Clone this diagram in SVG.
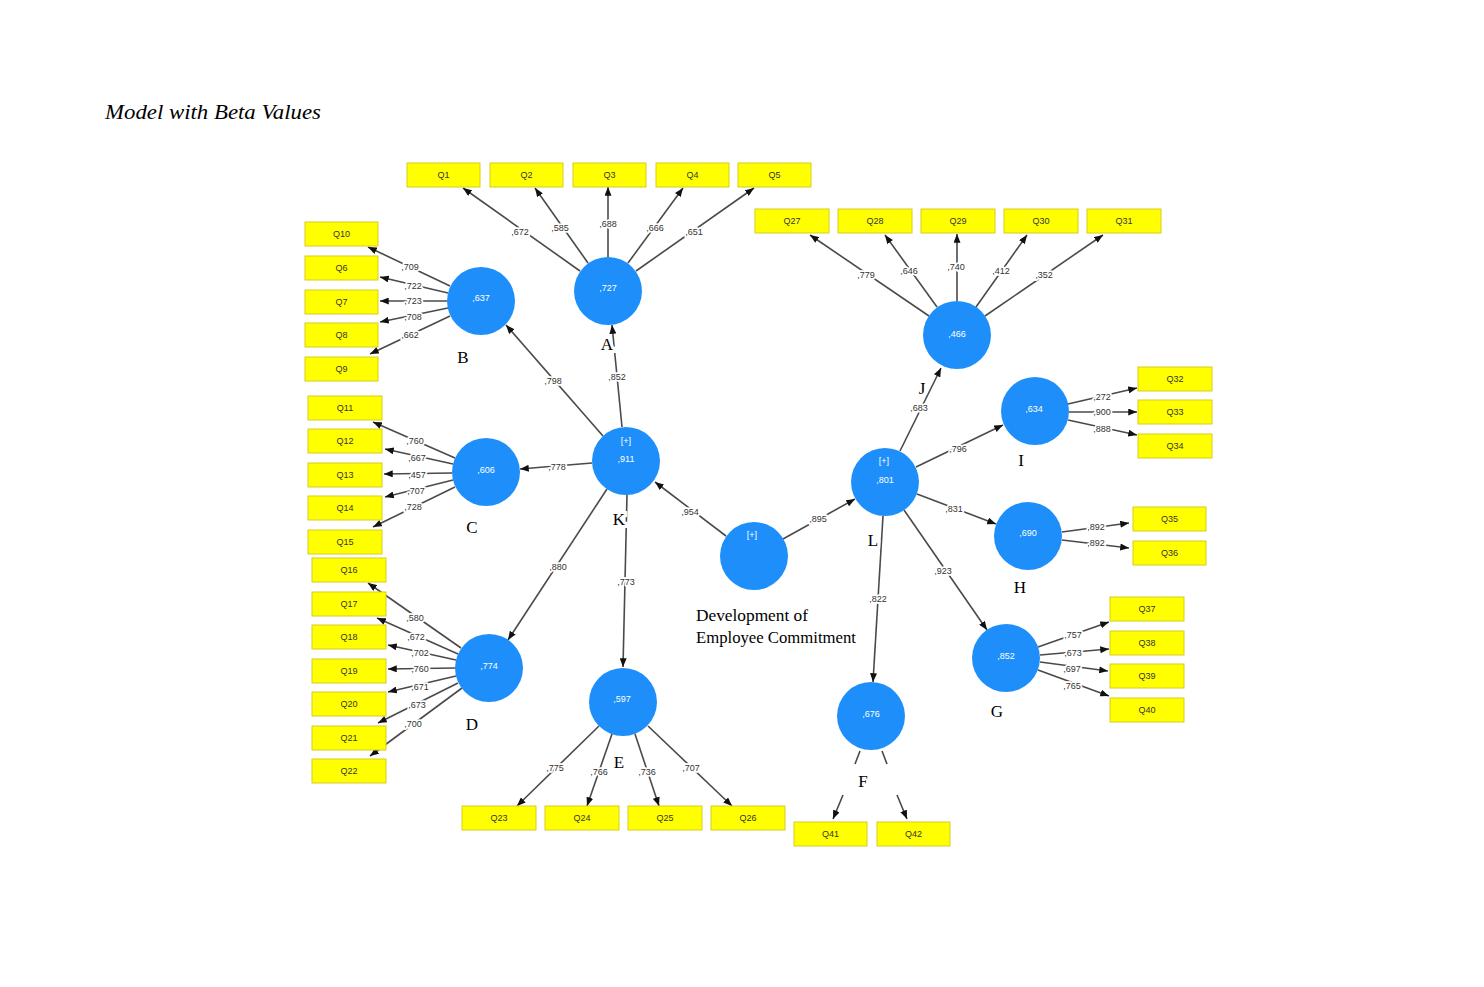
<svg xmlns="http://www.w3.org/2000/svg" width="1484" height="987" viewBox="0 0 1484 987">
<defs>
<marker id="ah" viewBox="0 0 10 8" refX="10" refY="4" markerWidth="9" markerHeight="7" markerUnits="userSpaceOnUse" orient="auto">
<path d="M0,0 L10,4 L0,8 z" fill="#111"/>
</marker>
</defs>
<style>
.bg{fill:#fff}
.c{stroke:#4a4a4a;stroke-width:1.6;fill:none;marker-end:url(#ah)}
.lb{font-family:"Liberation Sans",Arial,sans-serif;font-size:9px;fill:#333;text-anchor:middle;dominant-baseline:central;stroke:#fff;stroke-width:3.5px;paint-order:stroke;stroke-linejoin:round}
.box rect{fill:#ffff00;stroke:#d8cc20;stroke-width:1}
.box text{font-family:"Liberation Sans",Arial,sans-serif;font-size:9px;fill:#333;text-anchor:middle;dominant-baseline:central}
.lv circle{fill:#1e8ffa}
.lv text{font-family:"Liberation Sans",Arial,sans-serif;font-size:9px;fill:#fff;text-anchor:middle;dominant-baseline:central}
.let{font-family:"Liberation Serif","Times New Roman",serif;font-size:17px;fill:#000;text-anchor:middle;dominant-baseline:central;stroke:#fff;stroke-width:6px;paint-order:stroke}
.ttl{font-family:"Liberation Serif","Times New Roman",serif;font-style:italic;font-size:21px;fill:#000}
.dec{font-family:"Liberation Serif","Times New Roman",serif;font-size:17px;fill:#000}
</style>
<rect class="bg" x="0" y="0" width="1484" height="987"/>
<text class="ttl" x="105" y="119" textLength="216" lengthAdjust="spacingAndGlyphs">Model with Beta Values</text>

<g id="connectors">
<!-- A -->
<line class="c" x1="580" y1="271" x2="463" y2="188"/>
<line class="c" x1="588" y1="263" x2="535" y2="188"/>
<line class="c" x1="608" y1="257" x2="608" y2="187"/>
<line class="c" x1="628" y1="263" x2="683" y2="188"/>
<line class="c" x1="636" y1="271" x2="754" y2="188"/>
<!-- J -->
<line class="c" x1="929" y1="316" x2="810" y2="235"/>
<line class="c" x1="937" y1="307" x2="885" y2="235"/>
<line class="c" x1="957" y1="301" x2="957" y2="234"/>
<line class="c" x1="976" y1="307" x2="1027" y2="235"/>
<line class="c" x1="985" y1="316" x2="1103" y2="235"/>
<!-- B -->
<line class="c" x1="450" y1="286" x2="368" y2="247"/>
<line class="c" x1="448" y1="293" x2="380" y2="277"/>
<line class="c" x1="447" y1="301" x2="380" y2="301"/>
<line class="c" x1="448" y1="308" x2="380" y2="322"/>
<line class="c" x1="450" y1="316" x2="370" y2="354"/>
<!-- C -->
<line class="c" x1="455" y1="458" x2="373" y2="422"/>
<line class="c" x1="453" y1="464" x2="385" y2="449"/>
<line class="c" x1="452" y1="473" x2="384" y2="474"/>
<line class="c" x1="453" y1="480" x2="385" y2="497"/>
<line class="c" x1="455" y1="487" x2="373" y2="527"/>
<!-- D -->
<line class="c" x1="461" y1="648" x2="368" y2="583"/>
<line class="c" x1="458" y1="654" x2="377" y2="618"/>
<line class="c" x1="456" y1="660" x2="388" y2="645"/>
<line class="c" x1="455" y1="668" x2="388" y2="669"/>
<line class="c" x1="456" y1="676" x2="388" y2="692"/>
<line class="c" x1="458" y1="683" x2="378" y2="723"/>
<line class="c" x1="462" y1="688" x2="370" y2="756"/>
<!-- E -->
<line class="c" x1="599" y1="726" x2="517" y2="806"/>
<line class="c" x1="612" y1="734" x2="587" y2="806"/>
<line class="c" x1="635" y1="734" x2="659" y2="806"/>
<line class="c" x1="648" y1="726" x2="732" y2="806"/>
<!-- F -->
<path class="c" d="M860,751 L855,764 M843,795 L833,819"/>
<path class="c" d="M882,751 L887,764 M897,795 L907,819"/>
<!-- G -->
<line class="c" x1="1038" y1="647" x2="1109" y2="622"/>
<line class="c" x1="1040" y1="655" x2="1109" y2="649"/>
<line class="c" x1="1040" y1="662" x2="1108" y2="671"/>
<line class="c" x1="1038" y1="670" x2="1109" y2="696"/>
<!-- I -->
<line class="c" x1="1068" y1="404" x2="1137" y2="388"/>
<line class="c" x1="1069" y1="412" x2="1137" y2="412"/>
<line class="c" x1="1068" y1="420" x2="1137" y2="435"/>
<!-- H -->
<line class="c" x1="1062" y1="532" x2="1129" y2="523"/>
<line class="c" x1="1062" y1="540" x2="1129" y2="548"/>
<!-- structural -->
<line class="c" x1="592" y1="463" x2="520" y2="469"/>
<line class="c" x1="622" y1="427" x2="612" y2="325"/>
<line class="c" x1="603" y1="436" x2="506" y2="325"/>
<line class="c" x1="607" y1="489" x2="508" y2="640"/>
<line class="c" x1="627" y1="495" x2="623" y2="667"/>
<line class="c" x1="726" y1="536" x2="655" y2="482"/>
<line class="c" x1="783" y1="539" x2="855" y2="499"/>
<line class="c" x1="900" y1="451" x2="941" y2="368"/>
<line class="c" x1="916" y1="467" x2="1003" y2="425"/>
<line class="c" x1="917" y1="494" x2="996" y2="524"/>
<line class="c" x1="904" y1="510" x2="987" y2="630"/>
<line class="c" x1="883" y1="516" x2="873" y2="682"/>

<!-- labels -->
<text class="lb" x="520" y="232">,672</text>
<text class="lb" x="560" y="228">,585</text>
<text class="lb" x="608" y="224">,688</text>
<text class="lb" x="655" y="228">,666</text>
<text class="lb" x="694" y="232">,651</text>
<text class="lb" x="866" y="275">,779</text>
<text class="lb" x="909" y="271">,646</text>
<text class="lb" x="956" y="267">,740</text>
<text class="lb" x="1001" y="271">,412</text>
<text class="lb" x="1044" y="275">,352</text>
<text class="lb" x="410" y="267">,709</text>
<text class="lb" x="413" y="286">,722</text>
<text class="lb" x="413" y="301">,723</text>
<text class="lb" x="413" y="317">,708</text>
<text class="lb" x="410" y="335">,662</text>
<text class="lb" x="415" y="441">,760</text>
<text class="lb" x="417" y="458">,667</text>
<text class="lb" x="417" y="475">,457</text>
<text class="lb" x="416" y="491">,707</text>
<text class="lb" x="413" y="507">,728</text>
<text class="lb" x="415" y="618">,580</text>
<text class="lb" x="416" y="637">,672</text>
<text class="lb" x="420" y="653">,702</text>
<text class="lb" x="420" y="669">,760</text>
<text class="lb" x="420" y="687">,671</text>
<text class="lb" x="417" y="705">,673</text>
<text class="lb" x="413" y="724">,700</text>
<text class="lb" x="555" y="768">,775</text>
<text class="lb" x="599" y="772">,766</text>
<text class="lb" x="647" y="772">,736</text>
<text class="lb" x="691" y="768">,707</text>
<text class="lb" x="1073" y="635">,757</text>
<text class="lb" x="1073" y="653">,673</text>
<text class="lb" x="1072" y="669">,697</text>
<text class="lb" x="1072" y="686">,765</text>
<text class="lb" x="1102" y="397">,272</text>
<text class="lb" x="1102" y="412">,900</text>
<text class="lb" x="1102" y="429">,888</text>
<text class="lb" x="1096" y="527">,892</text>
<text class="lb" x="1096" y="543">,892</text>
<text class="lb" x="557" y="467">,778</text>
<text class="lb" x="617" y="377">,852</text>
<text class="lb" x="553" y="381">,798</text>
<text class="lb" x="558" y="567">,880</text>
<text class="lb" x="626" y="582">,773</text>
<text class="lb" x="690" y="512">,954</text>
<text class="lb" x="818" y="519">,895</text>
<text class="lb" x="919" y="408">,683</text>
<text class="lb" x="958" y="449">,796</text>
<text class="lb" x="954" y="509">,831</text>
<text class="lb" x="943" y="571">,923</text>
<text class="lb" x="878" y="599">,822</text>
</g>

<g id="letters">
<text class="let" x="607" y="344">A</text>
<text class="let" x="463" y="357">B</text>
<text class="let" x="472" y="527">C</text>
<text class="let" x="472" y="724">D</text>
<text class="let" x="619" y="762">E</text>
<text class="let" x="863" y="781">F</text>
<text class="let" x="997" y="711">G</text>
<text class="let" x="1020" y="587">H</text>
<text class="let" x="1021" y="460">I</text>
<text class="let" x="922" y="388">J</text>
<text class="let" x="619" y="519">K</text>
<text class="let" x="873" y="540">L</text>
</g>

<g id="node-A" class="lv"><circle cx="608" cy="291" r="34"/><text x="608" y="288">,727</text></g>
<g id="node-B" class="lv"><circle cx="481" cy="301" r="34"/><text x="481" y="298">,637</text></g>
<g id="node-C" class="lv"><circle cx="486" cy="472" r="34"/><text x="486" y="470">,606</text></g>
<g id="node-D" class="lv"><circle cx="489" cy="668" r="34"/><text x="489" y="666">,774</text></g>
<g id="node-E" class="lv"><circle cx="623" cy="702" r="34"/><text x="622" y="699">,597</text></g>
<g id="node-F" class="lv"><circle cx="871" cy="716" r="34"/><text x="871" y="714">,676</text></g>
<g id="node-G" class="lv"><circle cx="1006" cy="658" r="34"/><text x="1006" y="656">,852</text></g>
<g id="node-H" class="lv"><circle cx="1028" cy="536" r="34"/><text x="1028" y="533">,690</text></g>
<g id="node-I" class="lv"><circle cx="1035" cy="411" r="34"/><text x="1034" y="409">,634</text></g>
<g id="node-J" class="lv"><circle cx="957" cy="335" r="34"/><text x="957" y="334">,466</text></g>
<g id="node-K" class="lv"><circle cx="626" cy="461" r="34"/><text x="626" y="441">[+]</text><text x="626" y="459">,911</text></g>
<g id="node-L" class="lv"><circle cx="885" cy="482" r="34"/><text x="884" y="461">[+]</text><text x="885" y="480">,801</text></g>
<g id="node-DEC" class="lv"><circle cx="754" cy="556" r="34"/><text x="752" y="535">[+]</text></g>
<g id="label-DEC">
<text class="dec" x="696" y="621" textLength="112" lengthAdjust="spacingAndGlyphs">Development of</text>
<text class="dec" x="696" y="643" textLength="160" lengthAdjust="spacingAndGlyphs">Employee Commitment</text>
</g>

<g id="box-Q1" class="box"><rect x="407" y="163" width="73" height="24"/><text x="443.5" y="175">Q1</text></g>
<g id="box-Q2" class="box"><rect x="490" y="163" width="73" height="24"/><text x="526.5" y="175">Q2</text></g>
<g id="box-Q3" class="box"><rect x="573" y="163" width="73" height="24"/><text x="609.5" y="175">Q3</text></g>
<g id="box-Q4" class="box"><rect x="656" y="163" width="73" height="24"/><text x="692.5" y="175">Q4</text></g>
<g id="box-Q5" class="box"><rect x="738" y="163" width="73" height="24"/><text x="774.5" y="175">Q5</text></g>
<g id="box-Q27" class="box"><rect x="755" y="209" width="74" height="24"/><text x="792" y="221">Q27</text></g>
<g id="box-Q28" class="box"><rect x="838" y="209" width="74" height="24"/><text x="875" y="221">Q28</text></g>
<g id="box-Q29" class="box"><rect x="921" y="209" width="74" height="24"/><text x="958" y="221">Q29</text></g>
<g id="box-Q30" class="box"><rect x="1004" y="209" width="74" height="24"/><text x="1041" y="221">Q30</text></g>
<g id="box-Q31" class="box"><rect x="1087" y="209" width="74" height="24"/><text x="1124" y="221">Q31</text></g>
<g id="box-Q10" class="box"><rect x="305" y="222" width="73" height="24"/><text x="341.5" y="234">Q10</text></g>
<g id="box-Q6" class="box"><rect x="305" y="256" width="73" height="24"/><text x="341.5" y="268">Q6</text></g>
<g id="box-Q7" class="box"><rect x="305" y="290" width="73" height="24"/><text x="341.5" y="302">Q7</text></g>
<g id="box-Q8" class="box"><rect x="305" y="323" width="73" height="24"/><text x="341.5" y="335">Q8</text></g>
<g id="box-Q9" class="box"><rect x="305" y="357" width="73" height="24"/><text x="341.5" y="369">Q9</text></g>
<g id="box-Q11" class="box"><rect x="308" y="396" width="74" height="24"/><text x="345" y="408">Q11</text></g>
<g id="box-Q12" class="box"><rect x="308" y="429" width="74" height="24"/><text x="345" y="441">Q12</text></g>
<g id="box-Q13" class="box"><rect x="308" y="463" width="74" height="24"/><text x="345" y="475">Q13</text></g>
<g id="box-Q14" class="box"><rect x="308" y="496" width="74" height="24"/><text x="345" y="508">Q14</text></g>
<g id="box-Q15" class="box"><rect x="308" y="530" width="74" height="24"/><text x="345" y="542">Q15</text></g>
<g id="box-Q16" class="box"><rect x="312" y="558" width="74" height="24"/><text x="349" y="570">Q16</text></g>
<g id="box-Q17" class="box"><rect x="312" y="592" width="74" height="24"/><text x="349" y="604">Q17</text></g>
<g id="box-Q18" class="box"><rect x="312" y="625" width="74" height="24"/><text x="349" y="637">Q18</text></g>
<g id="box-Q19" class="box"><rect x="312" y="659" width="74" height="24"/><text x="349" y="671">Q19</text></g>
<g id="box-Q20" class="box"><rect x="312" y="692" width="74" height="24"/><text x="349" y="704">Q20</text></g>
<g id="box-Q21" class="box"><rect x="312" y="726" width="74" height="24"/><text x="349" y="738">Q21</text></g>
<g id="box-Q22" class="box"><rect x="312" y="759" width="74" height="24"/><text x="349" y="771">Q22</text></g>
<g id="box-Q23" class="box"><rect x="462" y="806" width="74" height="24"/><text x="499" y="818">Q23</text></g>
<g id="box-Q24" class="box"><rect x="545" y="806" width="74" height="24"/><text x="582" y="818">Q24</text></g>
<g id="box-Q25" class="box"><rect x="628" y="806" width="74" height="24"/><text x="665" y="818">Q25</text></g>
<g id="box-Q26" class="box"><rect x="711" y="806" width="74" height="24"/><text x="748" y="818">Q26</text></g>
<g id="box-Q41" class="box"><rect x="794" y="822" width="73" height="24"/><text x="830.5" y="834">Q41</text></g>
<g id="box-Q42" class="box"><rect x="877" y="822" width="73" height="24"/><text x="913.5" y="834">Q42</text></g>
<g id="box-Q37" class="box"><rect x="1110" y="597" width="74" height="24"/><text x="1147" y="609">Q37</text></g>
<g id="box-Q38" class="box"><rect x="1110" y="631" width="74" height="24"/><text x="1147" y="643">Q38</text></g>
<g id="box-Q39" class="box"><rect x="1110" y="664" width="74" height="24"/><text x="1147" y="676">Q39</text></g>
<g id="box-Q40" class="box"><rect x="1110" y="698" width="74" height="24"/><text x="1147" y="710">Q40</text></g>
<g id="box-Q32" class="box"><rect x="1138" y="367" width="74" height="24"/><text x="1175" y="379">Q32</text></g>
<g id="box-Q33" class="box"><rect x="1138" y="400" width="74" height="24"/><text x="1175" y="412">Q33</text></g>
<g id="box-Q34" class="box"><rect x="1138" y="434" width="74" height="24"/><text x="1175" y="446">Q34</text></g>
<g id="box-Q35" class="box"><rect x="1133" y="507" width="73" height="24"/><text x="1169.5" y="519">Q35</text></g>
<g id="box-Q36" class="box"><rect x="1133" y="541" width="73" height="24"/><text x="1169.5" y="553">Q36</text></g>
</svg>
